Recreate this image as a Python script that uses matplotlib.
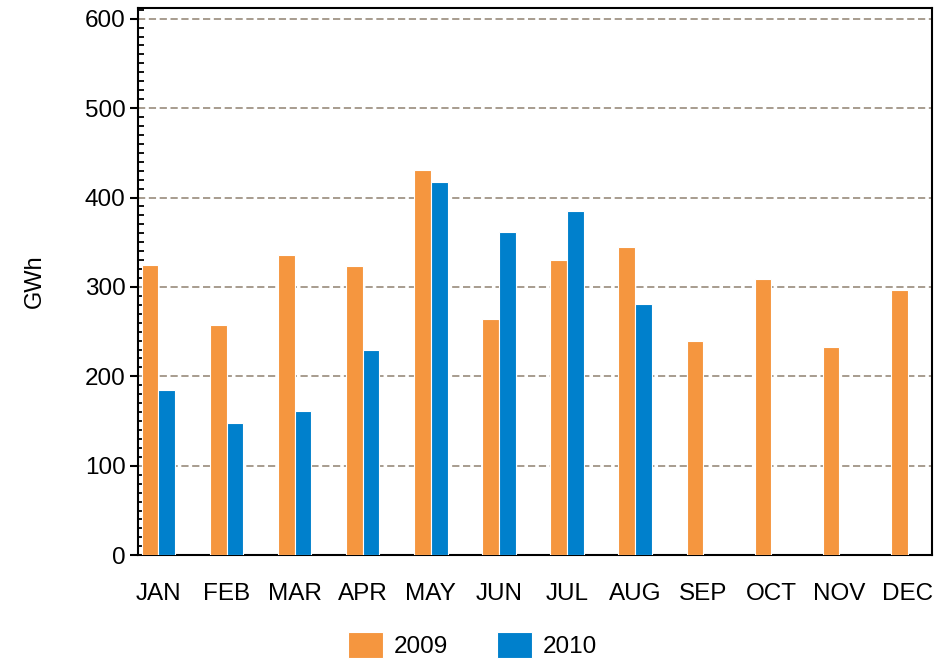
import matplotlib
matplotlib.use("Agg")
import matplotlib.pyplot as plt
import numpy as np
from matplotlib.ticker import MultipleLocator

months = ["JAN", "FEB", "MAR", "APR", "MAY", "JUN", "JUL", "AUG", "SEP", "OCT", "NOV", "DEC"]
vals_2009 = [325, 258, 336, 323, 431, 264, 330, 345, 240, 309, 233, 297]
vals_2010 = [185, 148, 161, 229, 417, 362, 385, 281]
yticks = [0, 100, 200, 300, 400, 500, 600]

c2009 = "#F5963F"
c2010 = "#0080CC"

plt.rcParams['font.family'] = ['Liberation Sans', 'DejaVu Sans']
FS = 17.5

fig = plt.figure(figsize=(9.37, 6.61), dpi=100)
ax = fig.add_axes([0.1473, 0.160, 0.9947 - 0.1473, 0.988 - 0.160])

w = 0.245
x1 = np.arange(len(vals_2009))
x2 = np.arange(len(vals_2010))
ax.bar(x1 - w / 2, vals_2009, width=w, color=c2009, edgecolor="white", linewidth=0.8, label="2009", zorder=3)
ax.bar(x2 + w / 2, vals_2010, width=w, color=c2010, edgecolor="white", linewidth=0.8, label="2010", zorder=3)

ax.set_xlim(-0.30, 11.36)
ax.set_ylim(0, 612)
ax.set_yticks(yticks)
ax.yaxis.set_minor_locator(MultipleLocator(10))
ax.set_xticks(np.arange(len(months)))
ax.set_xticklabels(months)

for y in yticks:
    ax.axhline(y, color="#A09486", linestyle=(0, (4, 2)), linewidth=1.3, zorder=1)

ax.tick_params(axis="y", which="major", direction="out", length=6, width=1.5, labelsize=FS, pad=3)
ax.tick_params(axis="y", which="minor", direction="in", length=4, width=1.3)
ax.tick_params(axis="x", which="both", length=0, labelsize=FS, pad=20)

for s in ax.spines.values():
    s.set_linewidth(1.5)
    s.set_color("black")

ax.set_ylabel("GWh", fontsize=17, labelpad=28)

leg = fig.legend(loc="center", bbox_to_anchor=(0.504, 0.024), ncol=2, frameon=False,
                 fontsize=FS, handlelength=1.45, handleheight=1.25, handletextpad=0.45,
                 columnspacing=2.0)

fig.savefig("out.png", dpi=100)
